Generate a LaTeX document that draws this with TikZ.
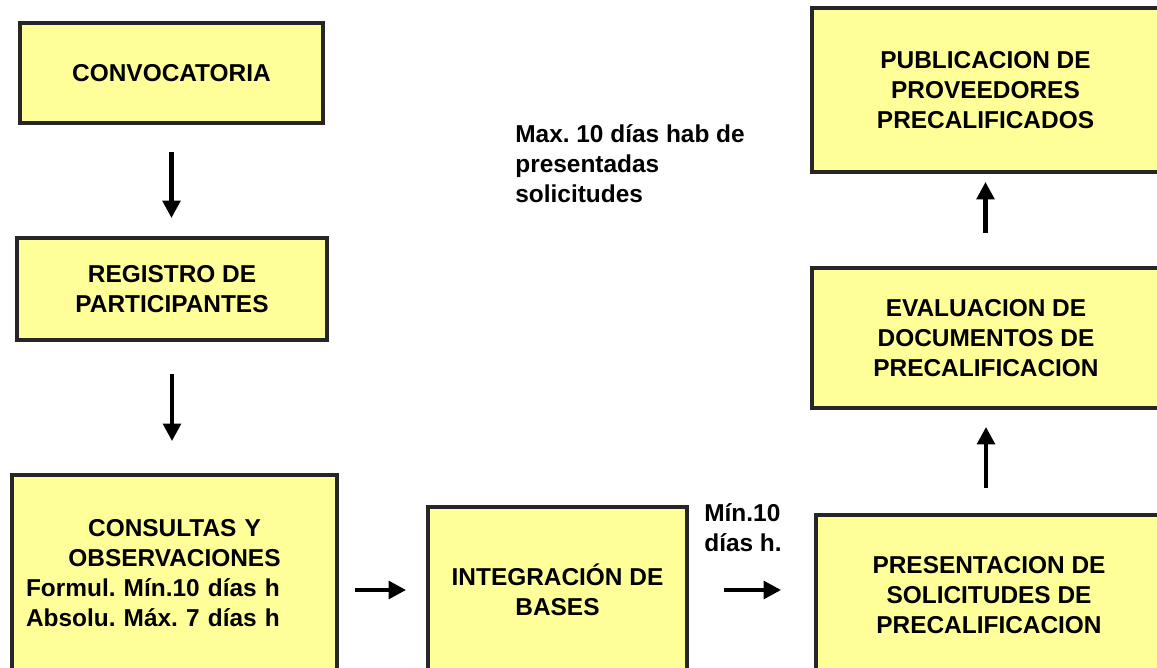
\documentclass[tikz,border=0pt]{standalone}
\usepackage{fontspec}
\setmainfont{Liberation Sans}
\usetikzlibrary{arrows.meta,positioning}
\definecolor{amarillo}{HTML}{FFFF99}
\frenchspacing

\begin{document}
\begin{tikzpicture}[x=0.02cm,y=-0.02cm,>={Triangle[length=10pt,width=10pt]},
  font=\fontsize{13.9}{17.07}\selectfont\bfseries,
  caja/.style={draw=black!85,line width=2.2pt,fill=amarillo,align=center,inner sep=0pt},
  flecha/.style={->,line width=2.4pt},
  nota/.style={align=left,inner sep=0pt}]

  \useasboundingbox (0,0) rectangle (1157,668);
  \clip (0,0) rectangle (1157,668);

  \node[caja,minimum width=6.06cm,minimum height=2cm] (conv) at (171.5,73) {CONVOCATORIA};
  \node[caja,minimum width=6.2cm,minimum height=2.04cm] (reg) at (172,289) {REGISTRO DE\\PARTICIPANTES};
  \node[caja,text width=5.94cm,inner xsep=0.28cm,minimum height=3.92cm,align=left] (cons) at (174.5,573)
    {{\centering CONSULTAS Y\\OBSERVACIONES\par}Formul. Mín.10 días h\\Absolu. Máx. 7 días h};
  \node[caja,minimum width=5.18cm,minimum height=3.32cm] (integ) at (557.5,590) {INTEGRACIÓN DE\\BASES};
  \node[caja,minimum width=6.92cm,minimum height=3.2cm] (pres) at (989,595) {PRESENTACION DE\\SOLICITUDES DE\\PRECALIFICACION};
  \node[caja,minimum width=6.96cm,minimum height=2.8cm] (eval) at (986,338) {EVALUACION DE\\DOCUMENTOS DE\\PRECALIFICACION};
  \node[caja,minimum width=6.94cm,minimum height=3.28cm] (pub) at (985.5,90) {PUBLICACION DE\\PROVEEDORES\\PRECALIFICADOS};

  \node[nota,anchor=north west] (plazo) at (515,124) {Max. 10 días hab de\\presentadas\\solicitudes};
  \node[nota,anchor=north west] (minimo) at (704,503) {Mín.10\\días h.};

  \path[flecha]
  (conv.south) edge[shorten <=0.54cm,shorten >=0.36cm] (conv.south |- reg.north)
  (reg.south) edge[shorten <=0.64cm,shorten >=0.64cm] (reg.south |- cons.north)
  (integ.west -| cons.east) edge[shorten <=0.32cm,shorten >=0.4cm] (integ.west)
  (integ.east) edge[shorten <=0.7cm,shorten >=0.66cm] (integ.east -| pres.west)
  (pres.north -| eval.south) edge[shorten <=0.5cm,shorten >=0.34cm] (eval.south)
  (eval.north -| pub.south) edge[shorten <=0.66cm,shorten >=0.16cm] (pub.south)
  ;
\end{tikzpicture}
\end{document}
